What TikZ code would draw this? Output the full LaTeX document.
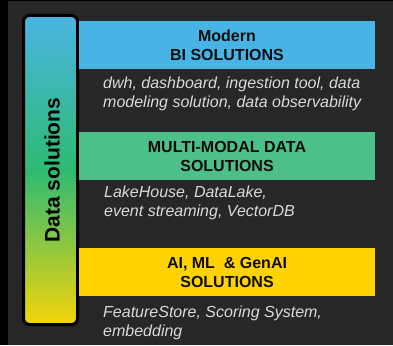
\documentclass[tikz,border=0pt]{standalone}
\usepackage{fontspec}
\setmainfont{Liberation Sans}
\usetikzlibrary{positioning}

\definecolor{bgdark}{HTML}{272727}
\definecolor{biblue}{HTML}{48B4E6}
\definecolor{mmgreen}{HTML}{4DBF88}
\definecolor{aiyellow}{HTML}{FFD300}
\definecolor{bargreen}{HTML}{2DBB72}
\definecolor{bartop}{HTML}{4AB4E4}
\definecolor{barbottom}{HTML}{F4D40A}
\definecolor{desctext}{HTML}{DADADA}

\begin{document}
\begin{tikzpicture}[x=1pt,y=-1pt,
    layer/.style={rectangle,minimum width=296pt,minimum height=48pt,inner sep=0pt,align=center,
      font=\fontsize{16}{19}\selectfont\bfseries,text=black!95},
    desc/.style={anchor=west,inner sep=0pt,align=left,text=desctext,
      font=\fontsize{16}{19}\selectfont\itshape}]
		% background
		\fill[bgdark] (0,0) rectangle (393,345);
		\fill[black] (0,0) rectangle (8,345);
		\fill[black] (0,0) rectangle (393,1);
		% side bar
		\node[draw=black,line width=3pt,rounded corners=6pt,minimum width=54pt,minimum height=309pt,
		  top color=bartop,bottom color=barbottom,middle color=bargreen] (bar) at (50.5,170) {};
		\node[rotate=90,font=\fontsize{21}{25}\selectfont\bfseries,text=black] (barlabel) at (52,170) {Data solutions};
		% layers
		\node[layer,fill=biblue] (bi) at (227,45) {Modern\\BI SOLUTIONS};
		\node[layer,fill=mmgreen] (mm) at (227,156) {MULTI-MODAL DATA\\SOLUTIONS};
		\node[layer,fill=aiyellow] (ai) at (227,272) {AI, ML~ \& GenAI\\SOLUTIONS};
		% descriptions
		\node[desc] (bitxt) at (103,93.5) {dwh, dashboard, ingestion tool, data\\modeling solution, data observability};
		\node[desc] (mmtxt) at (104,203) {LakeHouse, DataLake,\\event streaming, VectorDB};
		\node[desc] (aitxt) at (103,323) {FeatureStore, Scoring System,\\embedding};
\end{tikzpicture}
\end{document}
